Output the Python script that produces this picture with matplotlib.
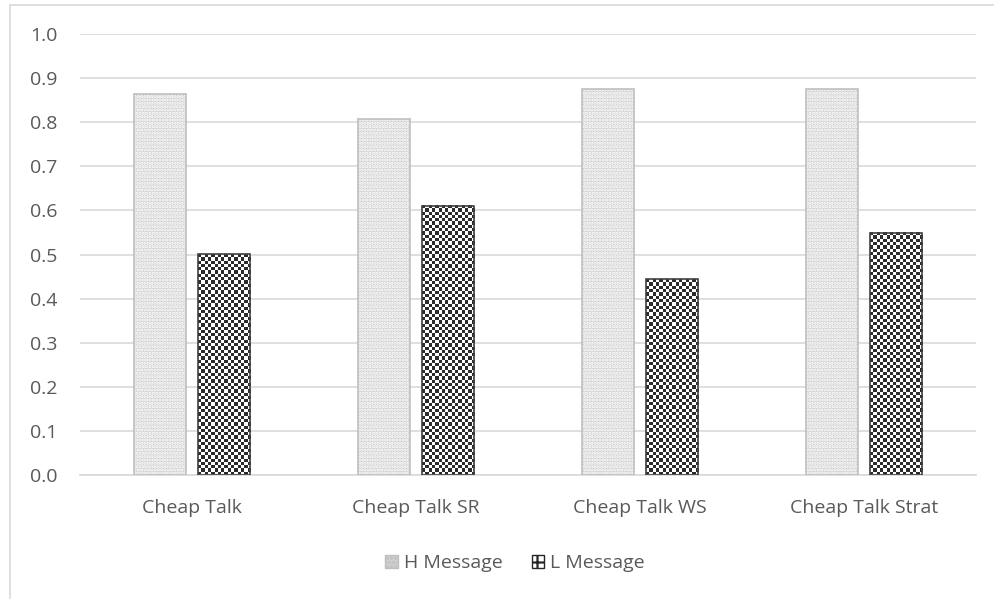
import matplotlib.pyplot as plt
from matplotlib.patches import Rectangle, Patch
from matplotlib.colors import ListedColormap
import numpy as np

categories = ['Cheap Talk', 'Cheap Talk SR', 'Cheap Talk WS', 'Cheap Talk Strat']
h_message = [0.864, 0.807, 0.875, 0.875]
l_message = [0.501, 0.610, 0.444, 0.549]
yticks = [0.0, 0.1, 0.2, 0.3, 0.4, 0.5, 0.6, 0.7, 0.8, 0.9, 1.0]

plt.rcParams['font.family'] = ['Open Sans', 'DejaVu Sans']
plt.rcParams['hatch.linewidth'] = 1.6
txt = '#595959'

fig = plt.figure(figsize=(9.95, 5.99), dpi=100)
ax = fig.add_axes([80 / 995, 1 - 475 / 599, (976 - 80) / 995, (475 - 34) / 599])

# outer chart border (only top/left visible)
fig.patches.append(Rectangle((10 / 995, -0.1), 1.2, (599 - 5) / 599 + 0.1,
                             transform=fig.transFigure, fill=False,
                             edgecolor='#d9d9d9', linewidth=1.2))

x = np.arange(len(categories))
w = 0.233
off = 0.143

ax.set_xlim(-0.5, len(categories) - 0.5)
ax.set_ylim(0, 1.0)

# H bars: light grey with fine white dots
ax.bar(x - off, h_message, w, color='#d0d0d0', edgecolor='white', linewidth=0,
       hatch='.....', zorder=2)
ax.bar(x - off, h_message, w, fill=False, edgecolor='#bfbfbf', linewidth=1.2, zorder=3)

# L bars: checkerboard pattern filled inside each bar
lbars = ax.bar(x + off, l_message, w, fill=False, edgecolor='#404040', linewidth=1.2, zorder=3)
checker = ListedColormap(['#2b2b2b', '#ffffff'])
for b in lbars:
    x0, y0, bw, bh = b.get_x(), b.get_y(), b.get_width(), b.get_height()
    p0 = ax.transData.transform((x0, y0))
    p1 = ax.transData.transform((x0 + bw, y0 + bh))
    nx = max(1, int(round((p1[0] - p0[0]) / 3.3)))
    ny = max(1, int(round((p1[1] - p0[1]) / 3.3)))
    board = np.add.outer(np.arange(ny), np.arange(nx)) % 2
    ax.imshow(board, cmap=checker, extent=(x0, x0 + bw, y0, y0 + bh), aspect='auto',
              interpolation='nearest', zorder=2.5)

ax.set_xlim(-0.5, len(categories) - 0.5)
ax.set_ylim(0, 1.0)
ax.set_yticks(yticks)
ax.set_yticklabels([f'{v:.1f}' for v in yticks])
ax.set_xticks(x)
ax.set_xticklabels(categories)
ax.tick_params(axis='both', length=0, colors=txt, labelsize=14)
ax.tick_params(axis='y', pad=16.5)
ax.tick_params(axis='x', pad=17)
ax.grid(axis='y', color='#d9d9d9', linewidth=1.2, zorder=0)
ax.set_axisbelow(True)
for s in ['top', 'right', 'left']:
    ax.spines[s].set_visible(False)
ax.spines['bottom'].set_color('#d9d9d9')
ax.spines['bottom'].set_linewidth(1.2)

handles = [Patch(facecolor='#d0d0d0', edgecolor='#bfbfbf', hatch='....', label='H Message'),
           Patch(facecolor='white', edgecolor='#262626', hatch='++', label='L Message')]
leg = fig.legend(handles=handles, loc='center', bbox_to_anchor=(515 / 995, 1 - 563 / 599),
                 ncol=2, frameon=False, fontsize=14, handlelength=0.65, handleheight=0.65,
                 handletextpad=0.3, columnspacing=1.5)
for t in leg.get_texts():
    t.set_color(txt)

fig.savefig('out.png', dpi=100)
